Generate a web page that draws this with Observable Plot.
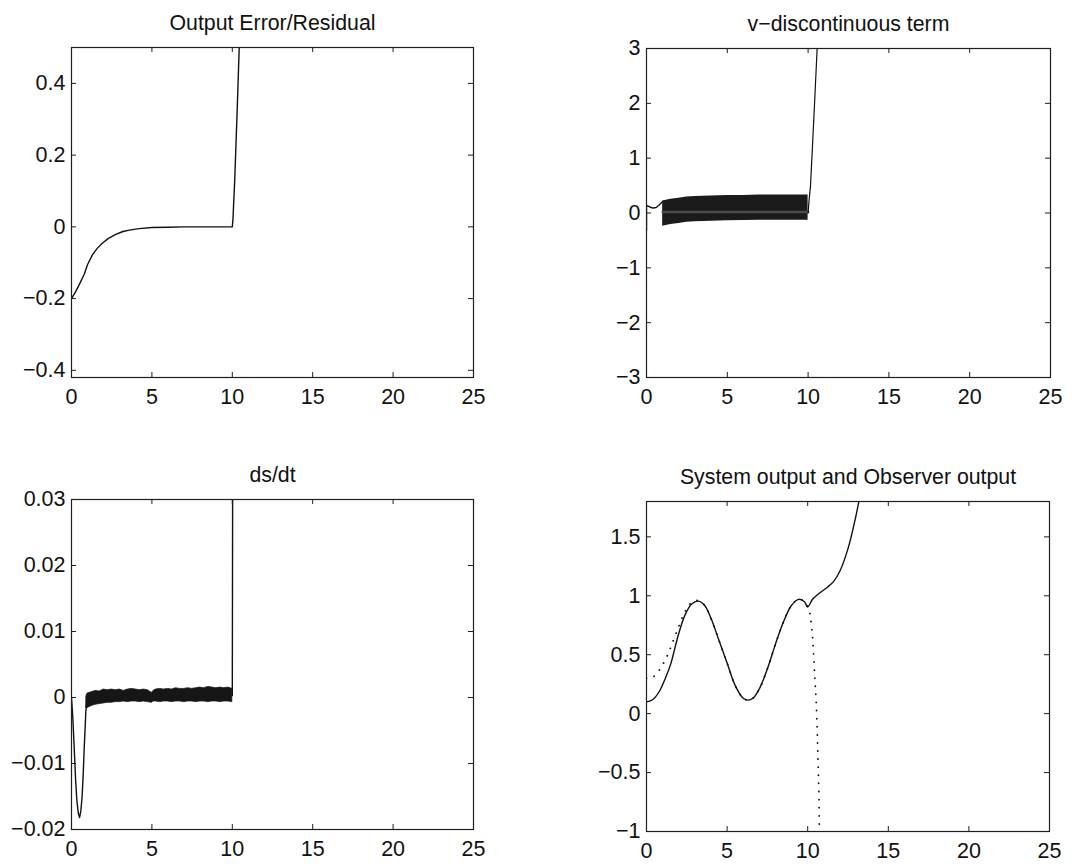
<!DOCTYPE html>
<html><head><meta charset="utf-8">
<script src="https://cdn.jsdelivr.net/npm/d3@7"></script>
<script src="https://cdn.jsdelivr.net/npm/@observablehq/plot@0.6"></script>
<style>
body{margin:0;background:#fff}
#fig{position:relative;width:1089px;height:865px;background:#fff;overflow:hidden}
.panel{position:absolute}
</style></head><body><div id="fig"></div>
<script>
// ---------- shared ticks ----------
const xTicks = [0, 5, 10, 15, 20, 25];

// ---------- Panel 1: Output Error/Residual ----------
const resT = [0, 0.27, 0.58, 0.79, 1.0, 1.3, 1.6, 1.93, 2.3, 2.75, 3.2, 3.6, 4.2, 5, 6, 7, 8, 9, 10, 10.04, 10.15, 10.3, 10.43, 10.55];
const resY = [-0.2, -0.18, -0.152, -0.132, -0.105, -0.078, -0.06, -0.045, -0.032, -0.021, -0.013, -0.009, -0.005, -0.002, -0.001, 0, 0, 0, 0, 0.02, 0.13, 0.32, 0.5, 0.7];
const resYTicks = [-0.4, -0.2, 0, 0.2, 0.4];

// ---------- Panel 2: v-discontinuous term ----------
const vStartT = [0, 0.001, 0.2, 0.4, 0.6, 0.8, 1.0];
const vStartY = [-0.32, 0.14, 0.11, 0.09, 0.10, 0.15, 0.21];
const vBandT   = [1.0, 1.5, 2, 2.5, 3, 4, 5, 6, 7, 8, 9, 10];
const vBandTop = [0.22, 0.25, 0.27, 0.29, 0.30, 0.31, 0.32, 0.32, 0.33, 0.33, 0.33, 0.33];
const vBandBot = [-0.24, -0.21, -0.19, -0.17, -0.16, -0.15, -0.14, -0.135, -0.13, -0.13, -0.13, -0.13];
const vStripeT = [1.0, 10];
const vStripeY = [0.02, 0.02];
const vRiseT = [10, 10.05, 10.15, 10.25, 10.4, 10.56, 10.65];
const vRiseY = [0.0, 0.2, 0.5, 1.1, 2.0, 3.0, 3.5];
const vYTicks = [-3, -2, -1, 0, 1, 2, 3];

// ---------- Panel 3: ds/dt ----------
const dsStartT = [0, 0.08, 0.17, 0.25, 0.33, 0.42, 0.5, 0.58, 0.66, 0.73, 0.79, 0.85, 0.89, 0.93];
const dsStartY = [0, -0.003, -0.0077, -0.0122, -0.0155, -0.0175, -0.0182, -0.0172, -0.0150, -0.0115, -0.0077, -0.0045, -0.0022, -0.0012];
const dsBandT = [0.93, 1.0, 1.25, 1.5, 1.75, 2.0, 2.25, 2.5, 2.75, 3.0, 3.25, 3.5, 3.75, 4.0, 4.25, 4.5, 4.75, 5.0, 5.1, 5.25, 5.5, 5.75, 6.0, 6.25, 6.5, 6.75, 7.0, 7.25, 7.5, 7.75, 8.0, 8.25, 8.5, 8.75, 9.0, 9.25, 9.5, 9.75, 10.0];
const dsBandTop = [0.0002, 0.0006, 0.0008, 0.0010, 0.0009, 0.0012, 0.0011, 0.0012, 0.0011, 0.0012, 0.0010, 0.0012, 0.0013, 0.0012, 0.0011, 0.0012, 0.0011, 0.0007, 0.0010, 0.0012, 0.0013, 0.0012, 0.0013, 0.0012, 0.0014, 0.0013, 0.0013, 0.0014, 0.0013, 0.0014, 0.0015, 0.0014, 0.0016, 0.0015, 0.0014, 0.0015, 0.0014, 0.0015, 0.0013];
const dsBandBot = [-0.0016, -0.0016, -0.0013, -0.0011, -0.0010, -0.0009, -0.0008, -0.0008, -0.0007, -0.0007, -0.0006, -0.0007, -0.0006, -0.0006, -0.0007, -0.0006, -0.0007, -0.0008, -0.0006, -0.0006, -0.0007, -0.0006, -0.0006, -0.0007, -0.0006, -0.0006, -0.0007, -0.0006, -0.0006, -0.0007, -0.0006, -0.0006, -0.0007, -0.0006, -0.0006, -0.0007, -0.0006, -0.0006, -0.0007];
const dsJumpT = [10.0, 10.02, 10.03];
const dsJumpY = [0.0003, 0.03, 0.045];
const dsYTicks = [-0.02, -0.01, 0, 0.01, 0.02, 0.03];

// ---------- Panel 4: System output and Observer output ----------
const sysT = [0, 0.4, 0.8, 1.2, 1.5, 1.75, 2.0, 2.4, 2.8, 3.2, 3.6, 4.0, 4.5, 5.0, 5.5, 6.0, 6.3, 6.6, 7.0, 7.5, 8.0, 8.5, 9.0, 9.45, 9.8, 10.0, 10.3, 10.7, 11.2, 11.6, 12.0, 12.5, 12.9, 13.2, 13.4];
const sysY = [0.10, 0.12, 0.19, 0.31, 0.42, 0.55, 0.68, 0.84, 0.93, 0.955, 0.92, 0.81, 0.62, 0.43, 0.24, 0.13, 0.115, 0.13, 0.21, 0.38, 0.59, 0.78, 0.92, 0.97, 0.95, 0.905, 0.97, 1.02, 1.07, 1.12, 1.21, 1.40, 1.62, 1.82, 1.98];
const obsT = [0, 0.4, 0.8, 1.1, 1.35, 1.55, 1.8, 2.0, 2.2, 2.45, 2.7, 2.95, 3.2, 3.6, 4.0, 4.5, 5.0, 5.5, 6.0, 6.3, 6.6, 7.0, 7.5, 8.0, 8.5, 9.0, 9.45, 9.8, 10.0, 10.1, 10.16, 10.29, 10.37, 10.45, 10.52, 10.58, 10.62, 10.66, 10.70, 10.72, 10.75];
const obsY = [0.30, 0.31, 0.37, 0.44, 0.51, 0.58, 0.67, 0.74, 0.81, 0.88, 0.93, 0.955, 0.96, 0.92, 0.81, 0.62, 0.43, 0.24, 0.13, 0.115, 0.13, 0.21, 0.38, 0.59, 0.78, 0.92, 0.97, 0.95, 0.905, 0.87, 0.83, 0.67, 0.49, 0.29, 0.12, -0.10, -0.30, -0.50, -0.73, -0.97, -1.15];
const outYTicks = [-1, -0.5, 0, 0.5, 1, 1.5];

// ---------- helpers ----------
const rows = (T, V) => T.map((t, i) => ({t, v: V[i]}));
const bandRows = (T, lo, hi) => T.map((t, i) => ({t, lo: lo[i], hi: hi[i]}));
const fmt = d => d === 0 ? "0" : (d < 0 ? "\u2212" + String(-d) : String(d));
const INK = "#111";
const FRAME = "#1e1e1e";

function panel({left, top, width, height, mt, mr, mb, ml, ydomain, yticks, title, marks}) {
  const innerW = width - ml - mr, innerH = height - mt - mb;
  const svg = Plot.plot({
    width, height,
    marginTop: mt, marginRight: mr, marginBottom: mb, marginLeft: ml,
    x: {domain: [0, 25], label: null},
    y: {domain: ydomain, label: null},
    style: {fontFamily: "'Liberation Sans', Arial, Helvetica, sans-serif", fontSize: "21.5px", color: INK, background: "transparent", overflow: "visible"},
    marks: [
      ...marks,
      Plot.frame({stroke: FRAME, strokeWidth: 1.2}),
      Plot.tickX(xTicks, {x: d => d, insetTop: innerH - 5, stroke: FRAME}),
      Plot.tickX(xTicks, {x: d => d, insetBottom: innerH - 5, stroke: FRAME}),
      Plot.tickY(yticks, {y: d => d, insetRight: innerW - 5, stroke: FRAME}),
      Plot.tickY(yticks, {y: d => d, insetLeft: innerW - 5, stroke: FRAME}),
      Plot.axisX(xTicks, {tickSize: 0, tickPadding: 11, tickFormat: fmt, fill: INK}),
      Plot.axisY(yticks, {tickSize: 0, tickPadding: 6, tickFormat: fmt, fill: INK}),
      Plot.text([title], {text: d => d, frameAnchor: "top", dy: -18, lineAnchor: "bottom", fontSize: 21.3, fill: INK})
    ]
  });
  const div = document.createElement("div");
  div.className = "panel";
  div.style.left = left + "px";
  div.style.top = top + "px";
  div.appendChild(svg);
  document.getElementById("fig").appendChild(div);
}

const lineOpts = {x: "t", y: "v", stroke: INK, strokeWidth: 1.4, clip: true};

panel({
  left: 0, top: 0, width: 545, height: 432, mt: 47, mr: 72, mb: 55, ml: 71,
  ydomain: [-0.42, 0.5], yticks: resYTicks, title: "Output Error/Residual",
  marks: [Plot.line(rows(resT, resY), lineOpts)]
});

panel({
  left: 545, top: 0, width: 544, height: 432, mt: 48, mr: 39, mb: 55, ml: 101,
  ydomain: [-3, 3], yticks: vYTicks, title: "v\u2212discontinuous term",
  marks: [
    Plot.line(rows(vStartT, vStartY), lineOpts),
    Plot.areaY(bandRows(vBandT, vBandBot, vBandTop), {x: "t", y1: "lo", y2: "hi", fill: "#1b1b1b", clip: true}),
    Plot.line(rows(vStripeT, vStripeY), {x: "t", y: "v", stroke: "#4c4c4c", strokeWidth: 2.5}),
    Plot.line(rows(vRiseT, vRiseY), {...lineOpts, strokeWidth: 1.2})
  ]
});

panel({
  left: 0, top: 432, width: 545, height: 433, mt: 67, mr: 72, mb: 36, ml: 71,
  ydomain: [-0.02, 0.03], yticks: dsYTicks, title: "ds/dt",
  marks: [
    Plot.line(rows(dsStartT, dsStartY), lineOpts),
    Plot.areaY(bandRows(dsBandT, dsBandBot, dsBandTop), {x: "t", y1: "lo", y2: "hi", fill: "#161616", stroke: "#161616", strokeWidth: 0.8, clip: true}),
    Plot.line(rows(dsJumpT, dsJumpY), lineOpts)
  ]
});

panel({
  left: 545, top: 432, width: 544, height: 433, mt: 69, mr: 40, mb: 34, ml: 101,
  ydomain: [-1, 1.8], yticks: outYTicks, title: "System output and Observer output",
  marks: [
    Plot.line(rows(sysT, sysY), {...lineOpts, curve: "catmull-rom"}),
    Plot.line(rows(obsT, obsY), {x: "t", y: "v", stroke: INK, strokeWidth: 1.8, strokeDasharray: "0.1 8", strokeLinecap: "round", curve: "catmull-rom", clip: true})
  ]
});
</script></body></html>
